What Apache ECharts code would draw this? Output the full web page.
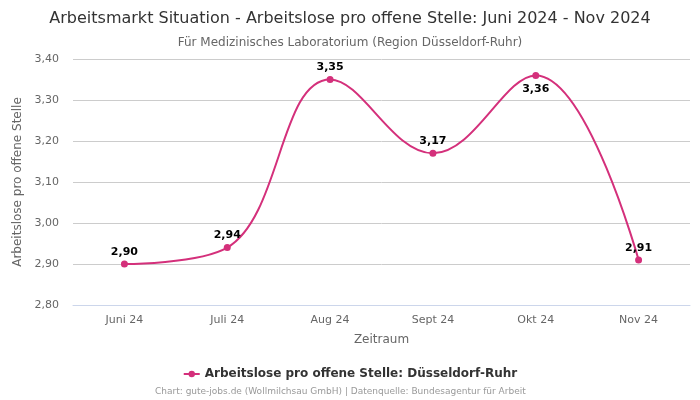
<!DOCTYPE html>
<html><head><meta charset="utf-8">
<script src="https://cdn.jsdelivr.net/npm/echarts@6/dist/echarts.min.js"></script>
<style>html,body{margin:0;padding:0;background:#fff}#c{width:700px;height:400px}</style>
</head><body><div id="c"></div>
<script>
const categories = ['Juni 24','Juli 24','Aug 24','Sept 24','Okt 24','Nov 24'];
const values = [2.90, 2.94, 3.35, 3.17, 3.36, 2.91];
const labelBelow = [false, false, false, false, true, false];
const yTicks = {min: 2.8, max: 3.4, interval: 0.1};
const color = '#d4307b';
const font = 'DejaVu Sans';
const fmt = v => v.toFixed(2).replace('.', ',');
const chart = echarts.init(document.getElementById('c'));
chart.setOption({
  animation: false,
  textStyle: {fontFamily: font},
  title: [
    {text: 'Arbeitsmarkt Situation - Arbeitslose pro offene Stelle: Juni 2024 - Nov 2024', left: 'center', top: 6,
     textStyle: {fontFamily: font, fontSize: 16, fontWeight: 'normal', color: '#333'}},
    {text: 'Für Medizinisches Laboratorium (Region Düsseldorf-Ruhr)', left: 'center', top: 32,
     textStyle: {fontFamily: font, fontSize: 12, fontWeight: 'normal', color: '#666'}},
    {text: 'Chart: gute-jobs.de (Wollmilchsau GmbH) | Datenquelle: Bundesagentur für Arbeit', left: 155, top: 387, padding: 0,
     textStyle: {fontFamily: font, fontSize: 9, fontWeight: 'normal', color: '#999'}}
  ],
  legend: {bottom: 15, left: 'center', itemWidth: 16, itemHeight: 8,
    textStyle: {fontFamily: font, fontSize: 12, fontWeight: 'bold', color: '#333'},
    data: ['Arbeitslose pro offene Stelle: Düsseldorf-Ruhr']},
  grid: {left: 73, right: 10, top: 59, bottom: 95},
  xAxis: {type: 'category', data: categories, boundaryGap: true,
    name: 'Zeitraum', nameLocation: 'middle', nameGap: 29,
    nameTextStyle: {fontFamily: font, fontSize: 12, color: '#666'},
    axisLine: {lineStyle: {color: '#ccd6eb'}}, axisTick: {show: false},
    axisLabel: {fontFamily: font, fontSize: 11, color: '#666', margin: 10}},
  yAxis: {type: 'value', min: yTicks.min, max: yTicks.max, interval: yTicks.interval,
    name: 'Arbeitslose pro offene Stelle', nameLocation: 'middle', nameGap: 44,
    nameTextStyle: {fontFamily: font, fontSize: 12, color: '#666'},
    axisLine: {show: false}, axisTick: {show: false},
    splitLine: {lineStyle: {color: '#cccccc'}},
    axisLabel: {fontFamily: font, fontSize: 11, color: '#666', margin: 14, formatter: v => fmt(v)}},
  series: [{
    name: 'Arbeitslose pro offene Stelle: Düsseldorf-Ruhr', type: 'line', smooth: 0.4,
    data: values.map((v, i) => ({value: v, label: {position: labelBelow[i] ? 'bottom' : 'top', distance: labelBelow[i] ? 5 : 3}})),
    color: color, symbol: 'circle', symbolSize: 7,
    lineStyle: {width: 2, color: color}, itemStyle: {color: color},
    label: {show: true, fontFamily: font, fontSize: 11, fontWeight: 'bold', color: '#000',
      formatter: p => fmt(p.value)}
  }]
});
</script></body></html>
